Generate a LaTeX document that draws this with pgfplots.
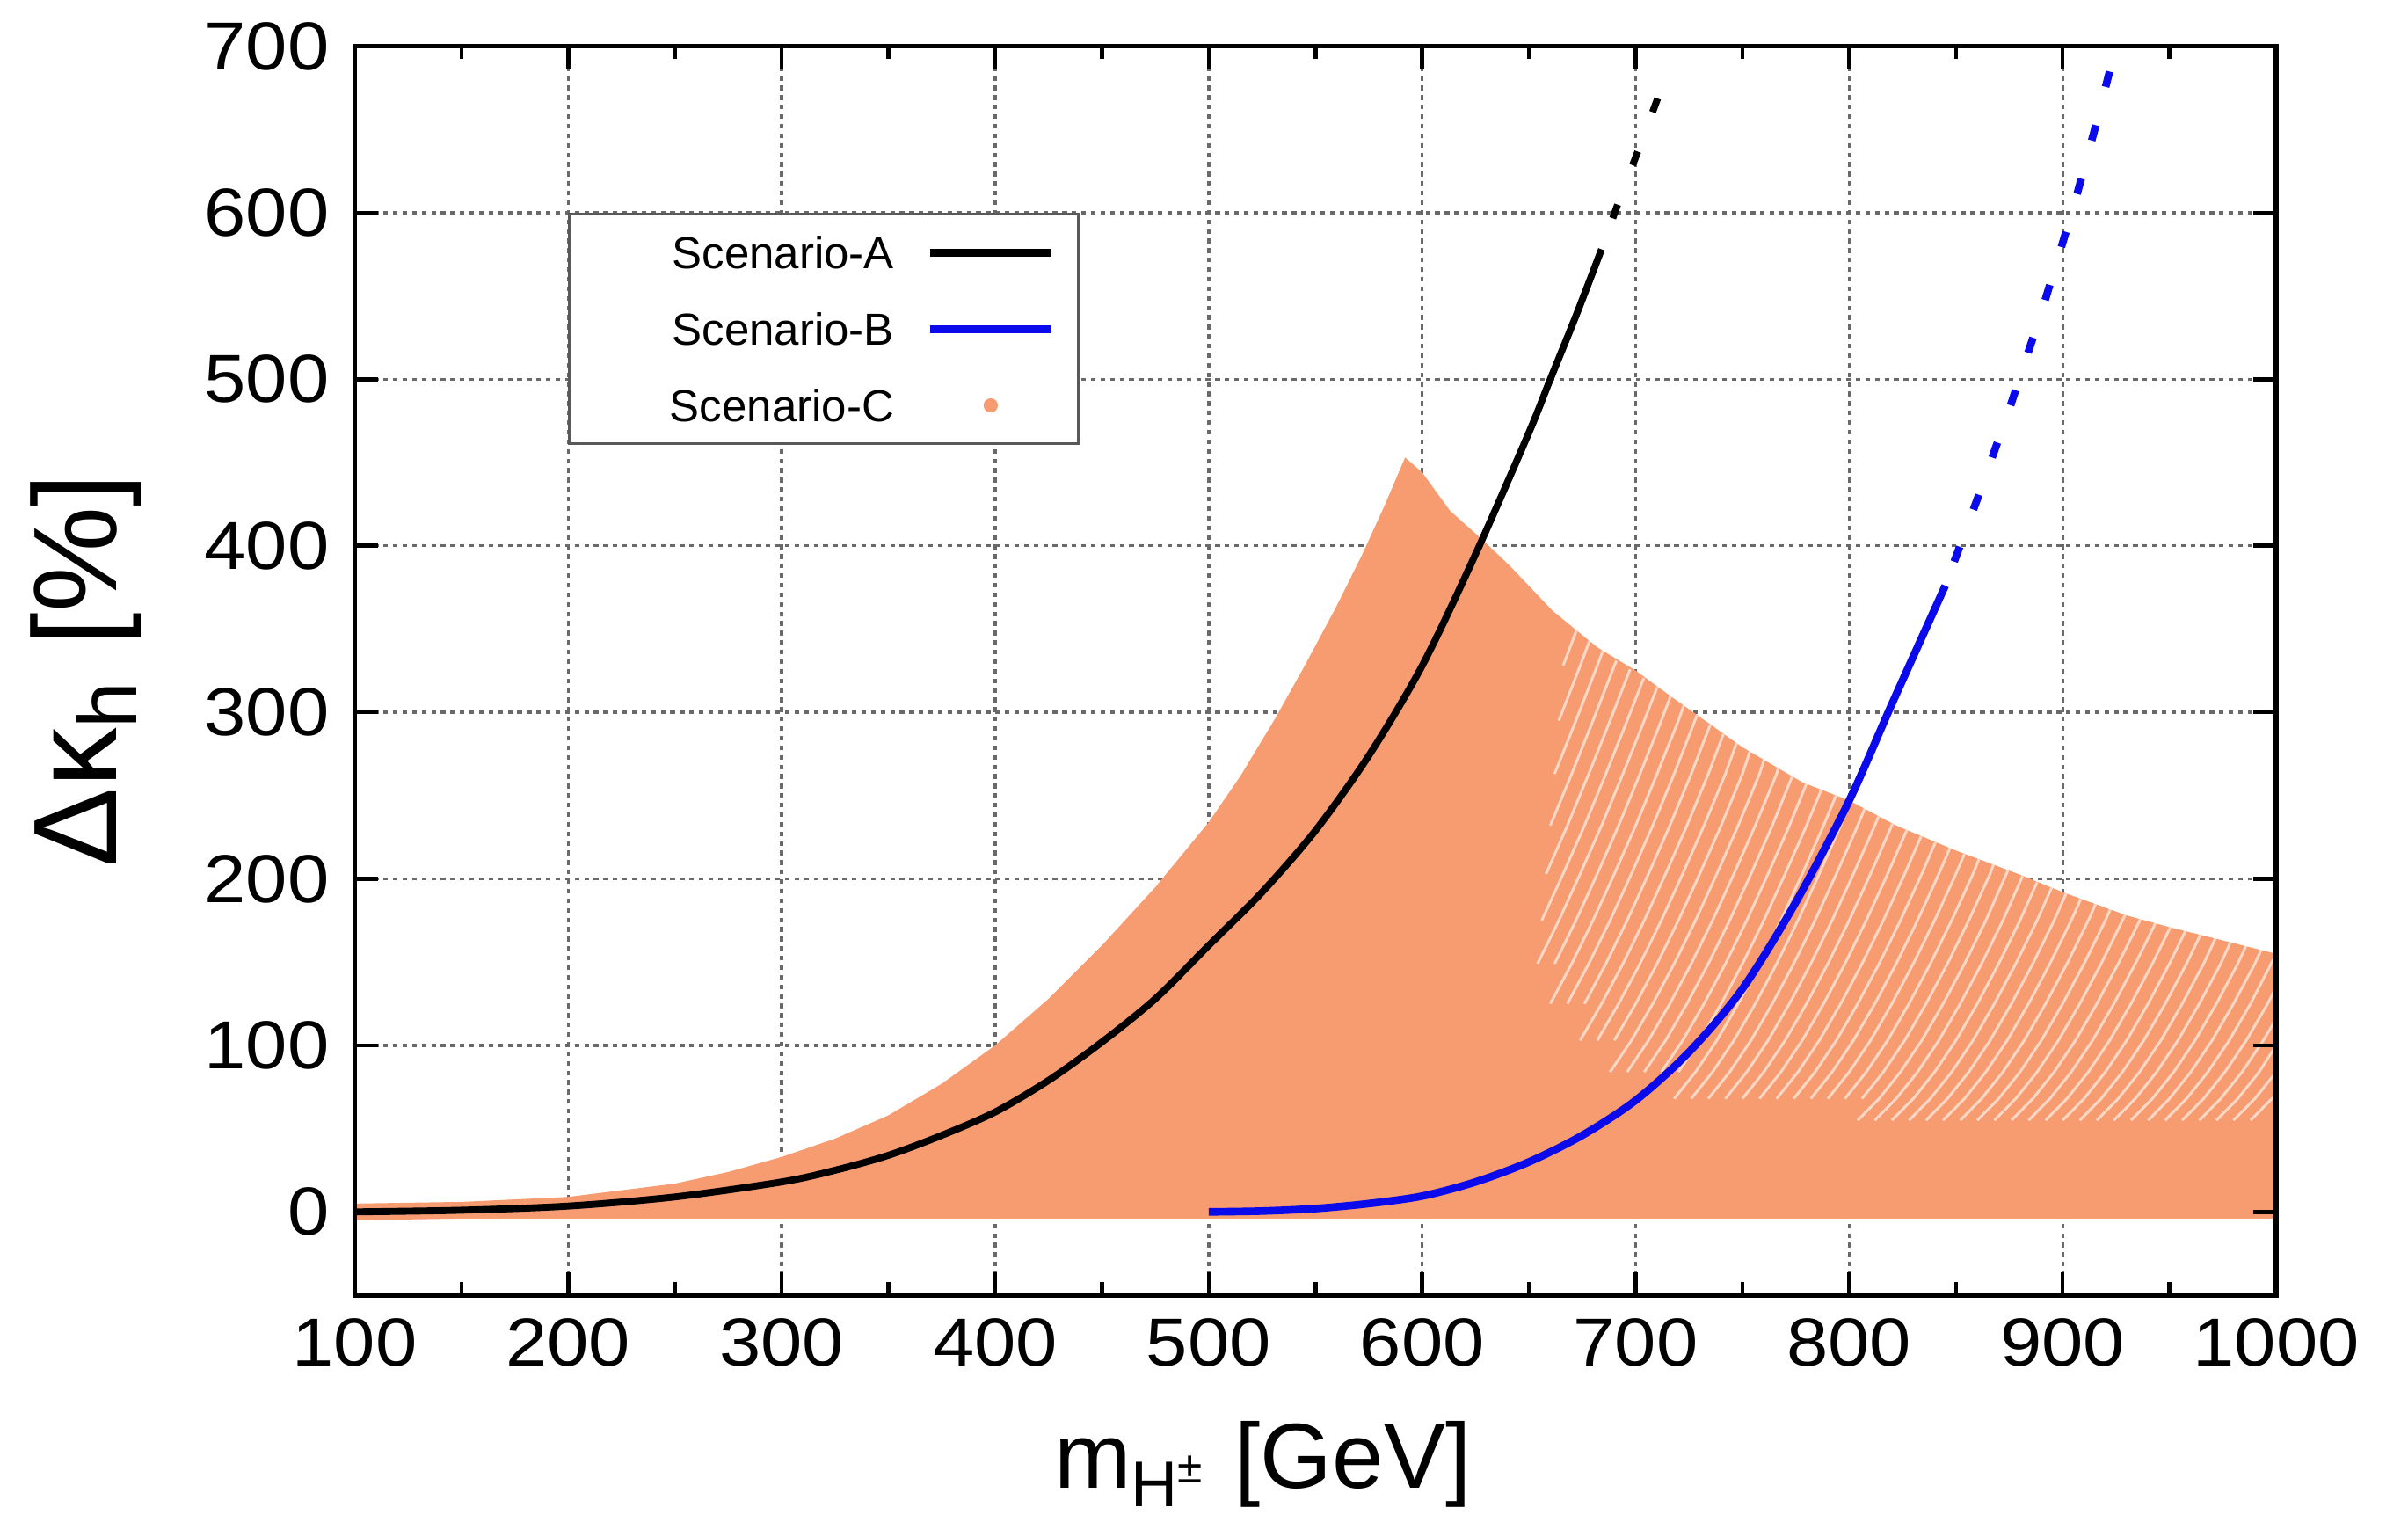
\documentclass[border=0pt]{standalone}
\usepackage{fontspec}
\setmainfont{Liberation Sans}
\usepackage{pgfplots}
\pgfplotsset{compat=1.18}
\definecolor{scC}{RGB}{247,156,113}
\definecolor{scB}{RGB}{10,10,235}
\definecolor{gridc}{RGB}{105,105,105}
\pgfplotsset{
  layers/gridbelow/.define layer set={axis background,axis grid,pre main,main,axis ticks,axis lines,axis tick labels,axis descriptions,axis foreground}{
    grid style={/pgfplots/on layer=axis grid},
    tick style={/pgfplots/on layer=axis ticks},
    axis line style={/pgfplots/on layer=axis lines},
    label style={/pgfplots/on layer=axis descriptions},
    legend style={/pgfplots/on layer=axis descriptions},
    title style={/pgfplots/on layer=axis descriptions},
    ticklabel style={/pgfplots/on layer=axis tick labels},
  },
  gap/.style={white, line width=0.4pt, opacity=0.6, forget plot},
}
\begin{document}
\begin{tikzpicture}
\begin{axis}[
  name=ax,
  set layers=gridbelow,
  scale only axis, width=291.4pt, height=189.4pt,
  xmin=100, xmax=1000, ymin=-50, ymax=700,
  xtick distance=100, ytick distance=100,
  minor x tick num=1,
  grid=major,
  major grid style={gridc, line width=0.45pt, dash pattern=on 0.7pt off 0.75pt},
  axis line style={line width=0.7pt},
  tick style={black, line width=0.6pt},
  major tick length=3.5pt, minor tick length=2pt,
  ticklabel style={font=\fontsize{10.3}{12}\selectfont, xscale=1.1},
  /pgf/number format/assume math mode=true,
  /pgf/number format/1000 sep={},
  xlabel={m\textsubscript{H\textsuperscript{±}} [GeV]},
  ylabel={Δκ\textsubscript{h} [\%]},
  xlabel style={font=\fontsize{14}{16}\selectfont, at={([xshift=-8pt,yshift=-29.3pt]axis description cs:0.5,0)}, anchor=base},
  ylabel style={font=\fontsize{18}{20}\selectfont, at={([xshift=-36.2pt]axis description cs:0,0.5)}, anchor=base},
  legend style={at={(axis cs:200,600)}, anchor=north west, draw=black!65, line width=0.45pt, fill=white,
    inner xsep=0pt, inner ysep=0pt, font=\fontsize{6.8}{8}\selectfont, row sep=0pt, column sep=0pt,
    nodes={inner sep=0pt, text depth=0pt, minimum height=11.6pt}},
  legend cell align=right,
  legend plot pos=right,
]
% Scenario-C region
\addplot[fill=scC, draw=none, forget plot] coordinates {
(100,-5) (100,5) (150,6) (200,9) (250,17) (275,24) (300,33) (325,44) (350,58) (375,77) (400,100)
(425,128) (450,160) (475,195) (500,234) (515,262) (531,296) (545,328) (560,364) (572,395) (582,423)
(592,453) (600,444) (613,421) (627,405) (641,388) (661,361) (682,339) (700,325) (716,310) (750,279)
(778,258) (800,247) (822,232) (850,217) (879,203) (900,192) (930,178) (950,171) (975,163) (1000,155)
(1000,-4) (150,-4) (100,-5)
};
% gaps between stripes of Scenario-C points
\addplot[gap] coordinates {(666,328) (672.2,349)};
\addplot[gap] coordinates {(664,295) (674,328) (678.4,343)};
\addplot[gap] coordinates {(662,263) (672,295) (682,328) (684.7,337)};
\addplot[gap] coordinates {(660,232) (670,263) (680,295) (690,328) (691,331)};
\addplot[gap] coordinates {(658,203) (668,232) (678,263) (688,295) (697.4,325.8)};
\addplot[gap] coordinates {(656,175) (666,203) (676,232) (686,263) (696,295) (703.8,320.6)};
\addplot[gap] coordinates {(654,149) (664,175) (674,203) (684,232) (694,263) (704,295) (710.1,315.2)};
\addplot[gap] coordinates {(662,149) (672,175) (682,203) (692,232) (702,263) (712,295) (716.3,309.6)};
\addplot[gap] coordinates {(660,125) (670,149) (680,175) (690,203) (700,232) (710,263) (720,295) (722.5,304)};
\addplot[gap] coordinates {(668,125) (678,149) (688,175) (698,203) (708,232) (718,263) (728.7,298.2)};
\addplot[gap] coordinates {(676,125) (686,149) (696,175) (706,203) (716,232) (726,263) (734.9,292.4)};
\addplot[gap] coordinates {(674,103) (684,125) (694,149) (704,175) (714,203) (724,232) (734,263) (741.1,286.9)};
\addplot[gap] coordinates {(682,103) (692,125) (702,149) (712,175) (722,203) (732,232) (742,263) (747.3,281.7)};
\addplot[gap] coordinates {(690,103) (700,125) (710,149) (720,175) (730,203) (740,232) (750,263) (753.5,276.5)};
\addplot[gap] coordinates {(688,84) (698,103) (708,125) (718,149) (728,175) (738,203) (748,232) (758,263) (760.1,271.5)};
\addplot[gap] coordinates {(696,84) (706,103) (716,125) (726,149) (736,175) (746,203) (756,232) (766,263) (766.7,266.5)};
\addplot[gap] coordinates {(704,84) (714,103) (724,125) (734,149) (744,175) (754,203) (764,232) (773.4,261.9)};
\addplot[gap] coordinates {(712,84) (722,103) (732,125) (742,149) (752,175) (762,203) (772,232) (780.2,257.8)};
\addplot[gap] coordinates {(720,84) (730,103) (740,125) (750,149) (760,175) (770,203) (780,232) (787,253.7)};
\addplot[gap] coordinates {(718,68) (728,84) (738,103) (748,125) (758,149) (768,175) (778,203) (788,232) (793.8,250)};
\addplot[gap] coordinates {(726,68) (736,84) (746,103) (756,125) (766,149) (776,175) (786,203) (796,232) (800.6,246.3)};
\addplot[gap] coordinates {(734,68) (744,84) (754,103) (764,125) (774,149) (784,175) (794,203) (804,232) (807.3,242.2)};
\addplot[gap] coordinates {(742,68) (752,84) (762,103) (772,125) (782,149) (792,175) (802,203) (812,232) (813.8,237.6)};
\addplot[gap] coordinates {(750,68) (760,84) (770,103) (780,125) (790,149) (800,175) (810,203) (820.3,233)};
\addplot[gap] coordinates {(758,68) (768,84) (778,103) (788,125) (798,149) (808,175) (818,203) (827,229.3)};
\addplot[gap] coordinates {(766,68) (776,84) (786,103) (796,125) (806,149) (816,175) (826,203) (833.7,225.6)};
\addplot[gap] coordinates {(774,68) (784,84) (794,103) (804,125) (814,149) (824,175) (834,203) (840.4,222)};
\addplot[gap] coordinates {(782,68) (792,84) (802,103) (812,125) (822,149) (832,175) (842,203) (847.2,218.5)};
\addplot[gap] coordinates {(790,68) (800,84) (810,103) (820,125) (830,149) (840,175) (850,203) (854,215)};
\addplot[gap] coordinates {(798,68) (808,84) (818,103) (828,125) (838,149) (848,175) (858,203) (860.8,211.8)};
\addplot[gap] coordinates {(806,68) (816,84) (826,103) (836,125) (846,149) (856,175) (866,203) (867.6,208.6)};
\addplot[gap] coordinates {(804,55) (814,68) (824,84) (834,103) (844,125) (854,149) (864,175) (874.4,205.2)};
\addplot[gap] coordinates {(812,55) (822,68) (832,84) (842,103) (852,125) (862,149) (872,175) (881.2,201.6)};
\addplot[gap] coordinates {(820,55) (830,68) (840,84) (850,103) (860,125) (870,149) (880,175) (888,198)};
\addplot[gap] coordinates {(828,55) (838,68) (848,84) (858,103) (868,125) (878,149) (888,175) (894.8,194.6)};
\addplot[gap] coordinates {(836,55) (846,68) (856,84) (866,103) (876,125) (886,149) (896,175) (901.6,191.2)};
\addplot[gap] coordinates {(844,55) (854,68) (864,84) (874,103) (884,125) (894,149) (904,175) (908.5,187.9)};
\addplot[gap] coordinates {(852,55) (862,68) (872,84) (882,103) (892,125) (902,149) (912,175) (915.4,184.8)};
\addplot[gap] coordinates {(860,55) (870,68) (880,84) (890,103) (900,125) (910,149) (920,175) (922.3,181.7)};
\addplot[gap] coordinates {(868,55) (878,68) (888,84) (898,103) (908,125) (918,149) (928,175) (929.4,178.9)};
\addplot[gap] coordinates {(876,55) (886,68) (896,84) (906,103) (916,125) (926,149) (936.5,176)};
\addplot[gap] coordinates {(884,55) (894,68) (904,84) (914,103) (924,125) (934,149) (943.5,173.4)};
\addplot[gap] coordinates {(892,55) (902,68) (912,84) (922,103) (932,125) (942,149) (950.5,171.1)};
\addplot[gap] coordinates {(900,55) (910,68) (920,84) (930,103) (940,125) (950,149) (957.5,168.7)};
\addplot[gap] coordinates {(908,55) (918,68) (928,84) (938,103) (948,125) (958,149) (964.5,166.4)};
\addplot[gap] coordinates {(916,55) (926,68) (936,84) (946,103) (956,125) (966,149) (971.5,164.1)};
\addplot[gap] coordinates {(924,55) (934,68) (944,84) (954,103) (964,125) (974,149) (978.6,161.9)};
\addplot[gap] coordinates {(932,55) (942,68) (952,84) (962,103) (972,125) (982,149) (985.8,159.6)};
\addplot[gap] coordinates {(940,55) (950,68) (960,84) (970,103) (980,125) (990,149) (993,157.4)};
\addplot[gap] coordinates {(948,55) (958,68) (968,84) (978,103) (988,125) (1000,155)};
\addplot[gap] coordinates {(956,55) (966,68) (976,84) (986,103) (996,125) (1000,135)};
\addplot[gap] coordinates {(964,55) (974,68) (984,84) (994,103) (1000,116)};
\addplot[gap] coordinates {(972,55) (982,68) (992,84) (1000,100)};
\addplot[gap] coordinates {(980,55) (990,68) (1000,84)};
\addplot[gap] coordinates {(988,55) (998,68) (1000,70)};
% Scenario-A
\addplot[black, line width=1.05pt, smooth, forget plot] coordinates {
(100,0) (150,1) (200,3.5) (250,9) (300,18) (325,25) (350,34) (375,46) (400,60) (425,79) (450,102)
(475,128) (500,160) (525,192) (550,229) (575,274) (600,328) (625,395) (650,468) (660,500) (672,538) (684,578)
};
\addplot[black, line width=1.05pt, dash pattern=on 2.2pt off 6.4pt, dash phase=3.6pt, forget plot] coordinates {
(684,578) (693,610) (702,640) (713,678)
};
% Scenario-B
\addplot[scB, line width=1.15pt, smooth, forget plot] coordinates {
(500,0) (525,0.5) (550,2) (575,5) (600,9.5) (625,18) (650,30) (675,46) (700,67) (725,96) (750,134)
(775,186) (800,247) (820,305) (845,376)
};
\addplot[scB, line width=1.15pt, dash pattern=on 2.4pt off 6.0pt, dash phase=4.5pt, forget plot] coordinates {
(845,376) (860,428) (875,482) (890,540) (905,603) (915,650) (923,690)
};
% legend
\addlegendimage{legend image code/.code={\draw[black,line width=1.2pt] (0pt,0pt) -- (18.5pt,0pt); \path[draw=none,fill=none] (22.5pt,0pt);}}
\addlegendentry{\makebox[54pt][r]{Scenario-A\hspace*{4.8pt}}}
\addlegendimage{legend image code/.code={\draw[scB,line width=1.2pt] (0pt,0pt) -- (18.5pt,0pt); \path[draw=none,fill=none] (22.5pt,0pt);}}
\addlegendentry{\makebox[54pt][r]{Scenario-B\hspace*{4.8pt}}}
\addlegendimage{legend image code/.code={\fill[scC] (9.25pt,0pt) circle (0.85pt); \path[draw=none,fill=none] (0pt,0pt) (22.5pt,0pt);}}
\addlegendentry{\makebox[54pt][r]{Scenario-C\hspace*{4.8pt}}}
\end{axis}
\pgfresetboundingbox
\path[use as bounding box] ([xshift=-53.8pt,yshift=-33.3pt]ax.south west) rectangle ([xshift=20pt,yshift=7pt]ax.north east);
\end{tikzpicture}
\end{document}
